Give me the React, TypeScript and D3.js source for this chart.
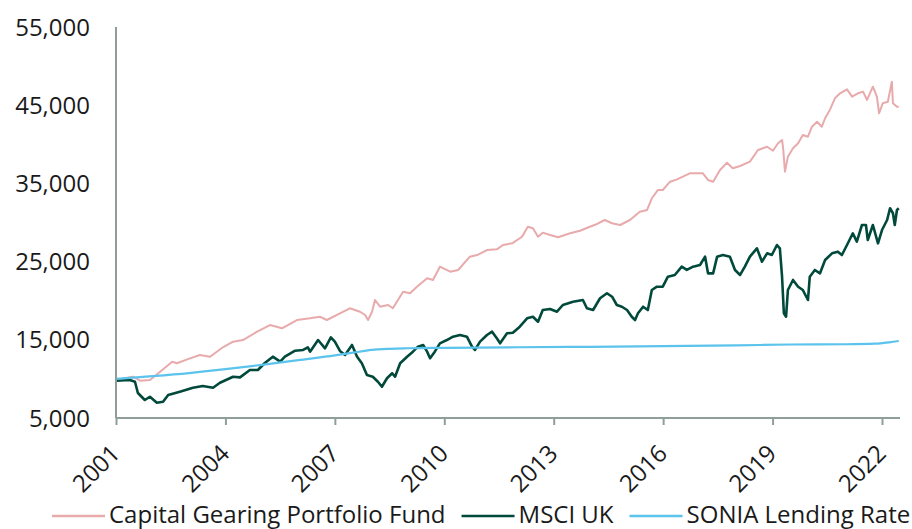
import React, { useEffect, useRef } from 'react';
import * as d3 from 'd3';

// x axis runs on decimal years
const yearTicks = [2001, 2004, 2007, 2010, 2013, 2016, 2019, 2022];
const valueTicks = [5000, 15000, 25000, 35000, 45000, 55000];
const seriesNames = ['Capital Gearing Portfolio Fund', 'MSCI UK', 'SONIA Lending Rate'];
const seriesColors = ['#e8aaab', '#014a3b', '#5bc3ec'];

const capitalGearing = [
  [2001.0, 9900], [2001.47, 10280], [2001.66, 9770], [2001.93, 9860], [2002.21, 10920],
  [2002.54, 12200], [2002.67, 12000], [2003.03, 12630], [2003.3, 13060], [2003.58, 12840],
  [2003.93, 14040], [2004.21, 14760], [2004.48, 14970], [2004.87, 16040], [2005.22, 16890],
  [2005.55, 16470], [2005.96, 17530], [2006.32, 17750], [2006.59, 17950], [2006.78, 17530],
  [2007.14, 18390], [2007.41, 19030], [2007.69, 18590], [2007.83, 18170], [2007.91, 17530],
  [2008.02, 18590], [2008.1, 20090], [2008.24, 19230], [2008.46, 19450], [2008.59, 19030],
  [2008.87, 21150], [2009.06, 20950], [2009.25, 21790], [2009.53, 22870], [2009.69, 22650],
  [2009.88, 24350], [2010.16, 23710], [2010.38, 23930], [2010.7, 25630], [2010.9, 25840],
  [2011.17, 26480], [2011.44, 26570], [2011.61, 27120], [2011.86, 27340], [2012.13, 28180],
  [2012.29, 29460], [2012.43, 29260], [2012.57, 28180], [2012.7, 28700], [2012.9, 28400],
  [2013.12, 28110], [2013.45, 28620], [2013.72, 28950], [2013.99, 29460], [2014.19, 29810],
  [2014.4, 30320], [2014.6, 29900], [2014.82, 29680], [2015.09, 30320], [2015.36, 31380],
  [2015.56, 31600], [2015.69, 33100], [2015.86, 34160], [2015.99, 34160], [2016.19, 35220],
  [2016.38, 35520], [2016.54, 35860], [2016.73, 36290], [2016.93, 36290], [2017.09, 36290],
  [2017.23, 35440], [2017.37, 35220], [2017.56, 36710], [2017.75, 37650], [2017.91, 36930],
  [2018.11, 37230], [2018.38, 37780], [2018.6, 39270], [2018.85, 39690], [2019.01, 39180],
  [2019.15, 40130], [2019.26, 40550], [2019.29, 39490], [2019.34, 36500], [2019.42, 38420],
  [2019.56, 39490], [2019.7, 40130], [2019.83, 41190], [2019.97, 40970], [2020.08, 42250],
  [2020.22, 42890], [2020.35, 42250], [2020.44, 43330], [2020.57, 44390], [2020.71, 45880],
  [2020.85, 46520], [2021.04, 47030], [2021.18, 46090], [2021.34, 46520], [2021.48, 46730],
  [2021.59, 45670], [2021.75, 47370], [2021.86, 46090], [2021.92, 43970], [2022.02, 45240],
  [2022.16, 45450], [2022.27, 48010], [2022.3, 45240], [2022.41, 44810], [2022.46, 44810],
];

const msciUk = [
  [2001.0, 9770], [2001.38, 9860], [2001.52, 9640], [2001.6, 8200], [2001.79, 7300],
  [2001.93, 7720], [2002.12, 6960], [2002.29, 7080], [2002.43, 7940], [2002.75, 8360],
  [2003.11, 8870], [2003.38, 9090], [2003.66, 8870], [2003.85, 9510], [2004.21, 10280],
  [2004.4, 10200], [2004.67, 11140], [2004.89, 11140], [2005.08, 12030], [2005.3, 12840],
  [2005.5, 12200], [2005.63, 12840], [2005.91, 13610], [2006.13, 13700], [2006.26, 14040],
  [2006.32, 13480], [2006.54, 14970], [2006.73, 13910], [2006.89, 15320], [2007.0, 14760],
  [2007.14, 13570], [2007.28, 13060], [2007.47, 14340], [2007.61, 12840], [2007.74, 12000],
  [2007.88, 10500], [2008.04, 10280], [2008.18, 9640], [2008.29, 9000], [2008.43, 10080],
  [2008.57, 10720], [2008.65, 10280], [2008.79, 12000], [2008.98, 12840], [2009.14, 13480],
  [2009.28, 14120], [2009.42, 14340], [2009.53, 13480], [2009.61, 12630], [2009.74, 13480],
  [2009.88, 14550], [2010.07, 14970], [2010.24, 15400], [2010.43, 15610], [2010.62, 15400],
  [2010.76, 14120], [2010.84, 13700], [2010.98, 14760], [2011.17, 15610], [2011.31, 16040],
  [2011.44, 15190], [2011.53, 14550], [2011.72, 15830], [2011.88, 15910], [2012.07, 16680],
  [2012.27, 17750], [2012.43, 17950], [2012.57, 17310], [2012.7, 18810], [2012.9, 18940],
  [2013.09, 18590], [2013.25, 19450], [2013.53, 19870], [2013.8, 20090], [2013.91, 19030],
  [2014.08, 18810], [2014.27, 20310], [2014.46, 20950], [2014.6, 20510], [2014.73, 19450],
  [2014.87, 19230], [2015.01, 18810], [2015.14, 17950], [2015.23, 17530], [2015.31, 18390],
  [2015.45, 19230], [2015.58, 18810], [2015.69, 21370], [2015.83, 21790], [2015.99, 21790],
  [2016.13, 23070], [2016.32, 23290], [2016.51, 24350], [2016.65, 23930], [2016.82, 24350],
  [2017.01, 24570], [2017.15, 25630], [2017.23, 23500], [2017.37, 23500], [2017.48, 25630],
  [2017.64, 25840], [2017.83, 25630], [2017.97, 23930], [2018.11, 23290], [2018.24, 24350],
  [2018.38, 25630], [2018.57, 26700], [2018.71, 24990], [2018.85, 26060], [2018.98, 25840],
  [2019.12, 27120], [2019.2, 26700], [2019.26, 23070], [2019.31, 18390], [2019.37, 17950],
  [2019.42, 21370], [2019.56, 22650], [2019.7, 21790], [2019.83, 21370], [2019.97, 20090],
  [2020.02, 23070], [2020.16, 23930], [2020.3, 23500], [2020.44, 25200], [2020.63, 26060],
  [2020.79, 26270], [2020.9, 25840], [2021.04, 27120], [2021.2, 28620], [2021.31, 27550],
  [2021.45, 29680], [2021.56, 29680], [2021.61, 27760], [2021.75, 29680], [2021.89, 27340],
  [2022.0, 29040], [2022.14, 30320], [2022.22, 31820], [2022.3, 31180], [2022.35, 29680],
  [2022.41, 31600], [2022.46, 31820],
];

const soniaRate = [
  [2001.0, 10000], [2002.0, 10350], [2003.0, 10750], [2004.0, 11250], [2005.0, 11800],
  [2006.0, 12400], [2007.0, 13000], [2007.5, 13350], [2008.0, 13700], [2008.5, 13850],
  [2009.0, 13920], [2010.0, 13980], [2012.0, 14050], [2014.0, 14100], [2016.0, 14180],
  [2018.0, 14280], [2019.5, 14400], [2021.0, 14430], [2021.8, 14500], [2022.2, 14680],
  [2022.46, 14850],
];

const allSeries = [capitalGearing, msciUk, soniaRate];

const Chart = () => {
  const ref = useRef(null);

  useEffect(() => {
    const width = 912;
    const height = 529;
    const margin = { top: 27, right: 12, bottom: 111, left: 116 };
    const font = '"Open Sans", sans-serif';
    const fontSize = 24;
    const axisColor = '#8f9e99';

    const svg = d3.select(ref.current).attr('width', width).attr('height', height);
    svg.selectAll('*').remove();

    const x = d3.scaleLinear().domain([2001, 2022]).range([margin.left, 882]);
    const y = d3.scaleLinear().domain([5000, 55000]).range([height - margin.bottom, margin.top]);

    // y labels, no tick marks
    svg
      .append('g')
      .selectAll('text')
      .data(valueTicks)
      .enter()
      .append('text')
      .attr('x', margin.left - 26)
      .attr('y', (d) => y(d))
      .attr('dy', '0.36em')
      .attr('text-anchor', 'end')
      .attr('font-family', font)
      .attr('font-size', fontSize)
      .attr('fill', '#1a1a1a')
      .text((d) => d3.format(',')(d));

    // lines
    const line = d3
      .line()
      .x((d) => x(d[0]))
      .y((d) => y(d[1]));

    const widths = [2, 2.6, 2.2];
    allSeries.forEach((data, i) => {
      svg
        .append('path')
        .datum(data)
        .attr('fill', 'none')
        .attr('stroke', seriesColors[i])
        .attr('stroke-width', widths[i])
        .attr('stroke-linejoin', 'round')
        .attr('d', i === 2 ? line.curve(d3.curveMonotoneX)(data) : line.curve(d3.curveLinear)(data));
    });

    // axes lines
    svg
      .append('line')
      .attr('x1', x(2001))
      .attr('x2', x(2001))
      .attr('y1', y(55000))
      .attr('y2', y(5000))
      .attr('stroke', axisColor)
      .attr('stroke-width', 2);

    const xAxis = svg
      .append('g')
      .attr('transform', `translate(0,${y(5000)})`)
      .call(d3.axisBottom(x).tickValues(yearTicks).tickSize(7).tickSizeOuter(0).tickFormat(d3.format('d')));
    xAxis.select('.domain').remove();
    xAxis.selectAll('line').attr('stroke', axisColor).attr('stroke-width', 2);
    xAxis
      .append('line')
      .attr('x1', x(2001))
      .attr('x2', width - margin.right)
      .attr('stroke', axisColor)
      .attr('stroke-width', 2);
    xAxis
      .selectAll('text')
      .attr('x', 0)
      .attr('y', 0)
      .attr('dy', 0)
      .attr('transform', 'translate(5,37) rotate(-45)')
      .attr('text-anchor', 'end')
      .attr('font-family', font)
      .attr('font-size', fontSize)
      .attr('fill', '#1a1a1a');

    // legend along the bottom, kept just above the page edge
    const legend = svg.append('g').attr('transform', 'translate(0,516)');
    let lx = 52;
    seriesNames.forEach((name, i) => {
      legend
        .append('line')
        .attr('x1', lx)
        .attr('x2', lx + 53)
        .attr('stroke', seriesColors[i])
        .attr('stroke-width', 2.4);
      const t = legend
        .append('text')
        .attr('x', lx + 57)
        .attr('y', 7)
        .attr('font-family', font)
        .attr('font-size', fontSize)
        .attr('fill', '#1a1a1a')
        .text(name);
      lx += 57 + t.node().getComputedTextLength() + 16;
    });
  }, []);

  return <svg ref={ref} style={{ position: 'absolute', left: 0, top: 0 }} />;
};

const App = () => <Chart />;

export default App;
